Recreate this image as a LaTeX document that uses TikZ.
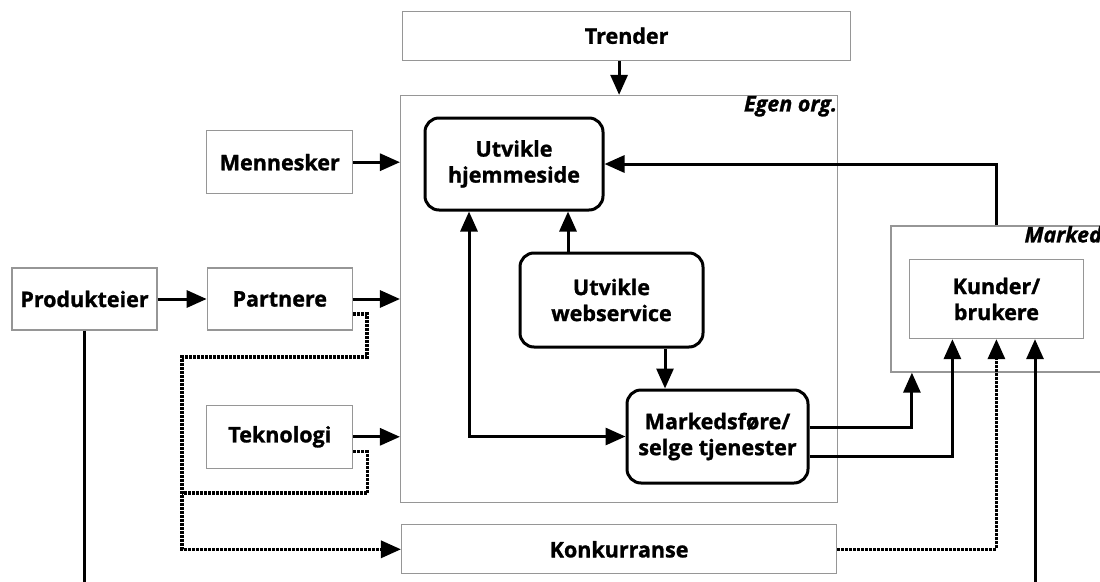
\documentclass[tikz,border=0pt]{standalone}
\usepackage{fontspec}
\setmainfont{Open Sans}[BoldFeatures={FakeBold=1.2},BoldItalicFeatures={FakeBold=1.2}]
\usetikzlibrary{arrows.meta,positioning}
\definecolor{Frame}{RGB}{150,150,150}
\tikzset{
  envbox/.style={draw=Frame,line width=1.3pt,align=center,font=\bfseries\fontsize{21.5}{26}\selectfont,inner sep=0pt},
  procbox/.style={draw=black,line width=3pt,rounded corners=14pt,align=center,font=\bfseries\fontsize{21.5}{26}\selectfont,inner sep=0pt},
  tagl/.style={font=\bfseries\itshape\fontsize{21.5}{26}\selectfont,inner sep=1pt},
  earr/.style={->,line width=3pt},
  edot/.style={earr,line width=3.2pt,dash pattern=on 3pt off 1pt},
  eline/.style={line width=3pt}
}

\begin{document}
\begin{tikzpicture}[x=1pt,y=-1pt,>={Triangle[length=20pt,width=17pt]}]
\useasboundingbox (0,0) rectangle (1100,581);
\node[envbox,minimum width=145pt,minimum height=62pt] (prod) at (84.5,299) {Produkteier};
\node[envbox,minimum width=145pt,minimum height=62pt,right=49pt of prod] (part) {Partnere};
\node[envbox,minimum width=146pt,minimum height=63pt,above=73pt of part] (menn) {Mennesker};
\node[envbox,minimum width=146pt,minimum height=63pt,below=74pt of part] (tekn) {Teknologi};
\node[envbox,minimum width=437pt,minimum height=407pt,right=47pt of part] (egen) {};
\node[tagl,anchor=north east] (egentag) at (egen.north east) {Egen org.};
\node[envbox,minimum width=448pt,minimum height=49pt,above=34pt of egen,xshift=7.5pt] (trend) {Trender};
\node[envbox,minimum width=435pt,minimum height=49pt,below=21pt of egen] (konk) {Konkurranse};
\node[envbox,minimum width=211pt,minimum height=146pt,right=52pt of egen] (marked) {};
\node[tagl,anchor=north east,inner sep=0.5pt] (markedtag) at (marked.north east) {Marked};
\node[envbox,minimum width=174pt,minimum height=79pt] (kund) at (marked) {Kunder/\\brukere};
\node[procbox,minimum width=178pt,minimum height=92pt] (hjem) at (514,164) {Utvikle\\hjemmeside};
\node[procbox,minimum width=183pt,minimum height=94pt] (web) at (611.5,300) {Utvikle\\webservice};
\node[procbox,minimum width=181pt,minimum height=93pt] (mark) at (717.5,436.5) {Markedsføre/\\selge tjenester};
\coordinate (jn) at (182,357);
\coordinate (jn2) at (182,493);
\coordinate (pbot) at (84.5,583);
\coordinate (kbot) at (1035,583);
% inputs to own organisation
\draw[earr] (trend.south -| egen.north) -- (egen.north);
\draw[earr] (menn.east) -- (menn.east -| egen.west);
\draw[earr] (part.east) -- (part.east -| egen.west);
\draw[earr] (tekn.east) -- (tekn.east -| egen.west);
\draw[earr] (prod) -- (part);
\draw[eline] (prod.south) -- (pbot);
% inside
\draw[earr] (marked.north) |- (hjem.east);
\draw[earr,<->] ([xshift=-45pt]hjem.south) |- (mark.west);
\draw[earr] ([xshift=-43.5pt]web.north) -- ([xshift=-43.5pt]web.north |- hjem.south);
\draw[earr] ([xshift=53.5pt]web.south) -- ([xshift=53.5pt]web.south |- mark.north);
% to the market
\draw[earr] ([yshift=9.5pt]mark.east) -| ([xshift=-84.5pt]marked.south);
\draw[earr] ([yshift=-19.5pt]mark.east) -| ([xshift=-44pt]kund.south);
\draw[edot] (konk.east) -| (kund.south);
\draw[earr] (kbot) -- (kbot |- kund.south);
% competition
\draw[edot] ([yshift=-15pt]part.east) -- ++(14pt,0) |- (jn) |- (konk.west);
\draw[edot,-] ([yshift=-15pt]tekn.east) -- ++(14pt,0) |- (jn2);
\end{tikzpicture}
\end{document}
